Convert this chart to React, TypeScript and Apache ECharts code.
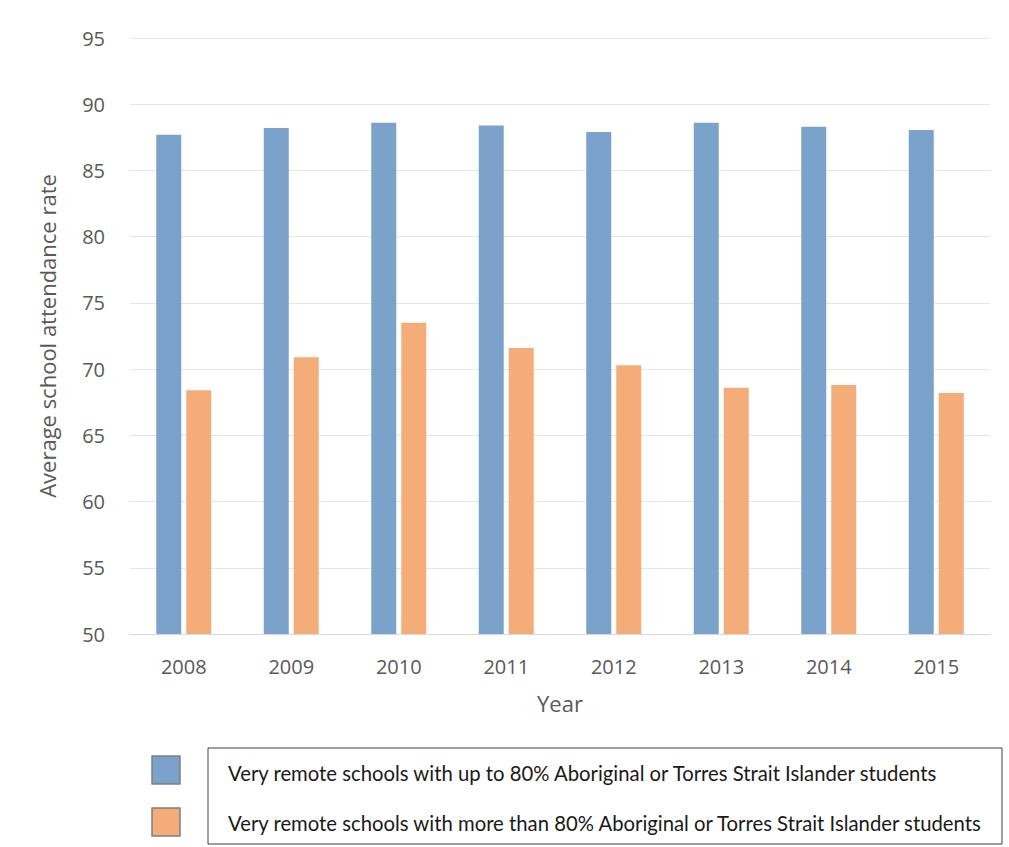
import React, { useEffect, useRef } from "react";
import * as echarts from "echarts";

const years = ["2008", "2009", "2010", "2011", "2012", "2013", "2014", "2015"];
const upTo80 = [87.7, 88.2, 88.6, 88.4, 87.9, 88.6, 88.3, 88.05];
const moreThan80 = [68.4, 70.9, 73.5, 71.6, 70.3, 68.6, 68.8, 68.2];
const seriesNames = [
  "Very remote schools with up to 80% Aboriginal or Torres Strait Islander students",
  "Very remote schools with more than 80% Aboriginal or Torres Strait Islander students",
];
const colors = ["#7aa2cb", "#f4ac78"];

export default function App() {
  const ref = useRef<HTMLDivElement>(null);
  useEffect(() => {
    if (!ref.current) return;
    const chart = echarts.init(ref.current, null, { renderer: "svg" });
    const axisText = { color: "#595959", fontFamily: "Open Sans", fontSize: 20 };
    chart.setOption({
      animation: false,
      backgroundColor: "#ffffff",
      grid: { left: 130, right: 19, top: 38, bottom: 213 },
      xAxis: {
        type: "category",
        data: years,
        name: "Year",
        nameLocation: "middle",
        nameGap: 58,
        nameTextStyle: { ...axisText, fontSize: 22 },
        axisLine: { lineStyle: { color: "#d9d9d9" } },
        axisTick: { show: false },
        axisLabel: { ...axisText, margin: 22 },
      },
      yAxis: {
        type: "value",
        min: 50,
        max: 95,
        interval: 5,
        name: "Average school attendance rate",
        nameLocation: "middle",
        nameGap: 72,
        nameTextStyle: { ...axisText, fontSize: 22 },
        axisLine: { show: false },
        axisTick: { show: false },
        axisLabel: { ...axisText, margin: 25 },
        splitLine: { lineStyle: { color: "#e6e6e6" } },
      },
      series: [
        {
          type: "bar",
          name: seriesNames[0],
          data: upTo80,
          barWidth: 25,
          barGap: "20%",
          itemStyle: { color: colors[0] },
        },
        {
          type: "bar",
          name: seriesNames[1],
          data: moreThan80,
          barWidth: 25,
          itemStyle: { color: colors[1] },
        },
      ],
      graphic: [
        {
          type: "rect",
          shape: { x: 208, y: 748, width: 794, height: 96 },
          style: { fill: "none", stroke: "#404040", lineWidth: 1 },
        },
        {
          type: "rect",
          shape: { x: 152, y: 756, width: 28, height: 28 },
          style: { fill: colors[0], stroke: "#7f7f7f", lineWidth: 1.5 },
        },
        {
          type: "rect",
          shape: { x: 152, y: 808, width: 28, height: 28 },
          style: { fill: colors[1], stroke: "#7f7f7f", lineWidth: 1.5 },
        },
        {
          type: "text",
          x: 228,
          y: 773,
          style: {
            text: seriesNames[0],
            fill: "#1a1a1a",
            font: "20.3px Lato, sans-serif",
            textVerticalAlign: "middle",
          },
        },
        {
          type: "text",
          x: 228,
          y: 823,
          style: {
            text: seriesNames[1],
            fill: "#1a1a1a",
            font: "20.3px Lato, sans-serif",
            textVerticalAlign: "middle",
          },
        },
      ],
    });
    return () => chart.dispose();
  }, []);
  return (
    <div
      ref={ref}
      style={{ position: "fixed", left: 0, top: 0, width: 1009, height: 847 }}
    />
  );
}
